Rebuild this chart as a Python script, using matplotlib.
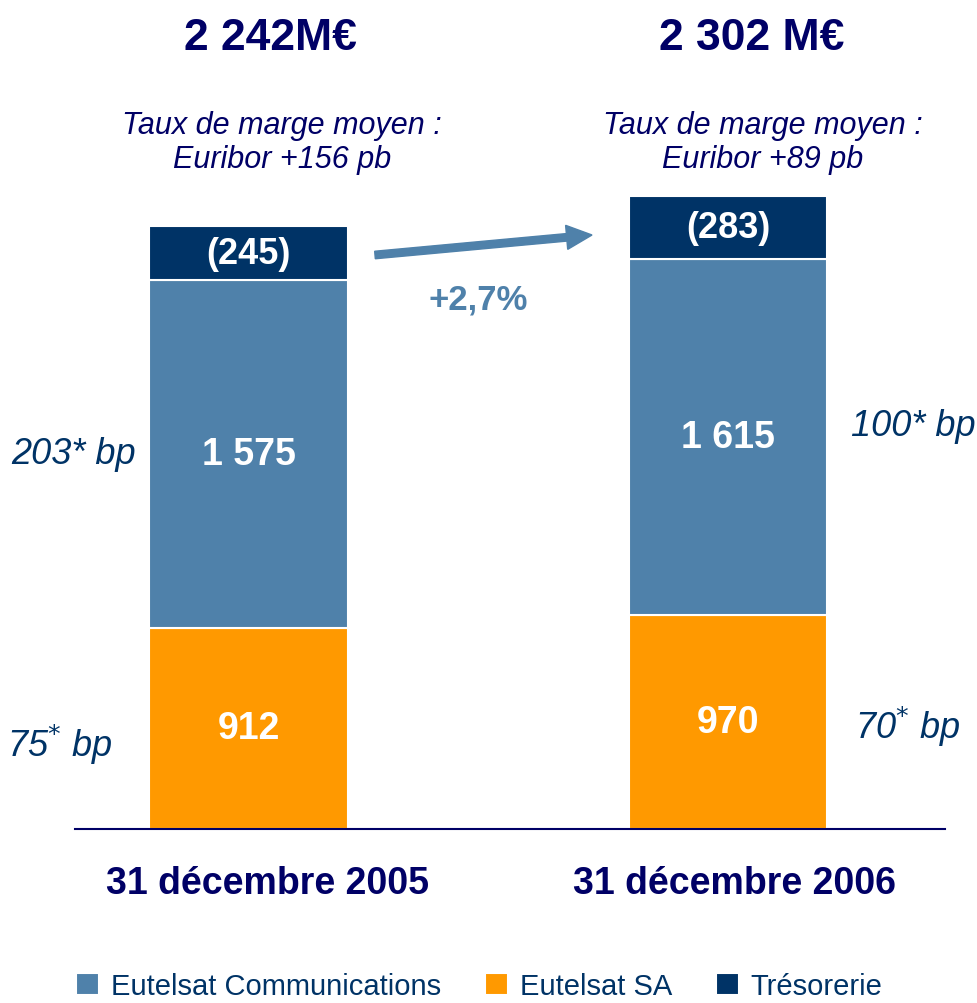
import matplotlib
matplotlib.use("Agg")
import matplotlib.pyplot as plt
import numpy as np

plt.rcParams['font.family'] = ['Liberation Sans Narrow', 'Liberation Sans', 'DejaVu Sans']

dates = ["31 décembre 2005", "31 décembre 2006"]
totals = ["2 242M€", "2 302 M€"]
marges = ["Taux de marge moyen :\nEuribor +156 pb", "Taux de marge moyen :\nEuribor +89 pb"]
eutelsat_sa = [912, 970]
eutelsat_comm = [1575, 1615]
tresorerie = [245, 283]
sa_labels = ["912", "970"]
comm_labels = ["1 575", "1 615"]
treso_labels = ["(245)", "(283)"]
bp_comm = ["203* bp", "100* bp"]
bp_sa = ["75$^{*}$ bp", "70$^{*}$ bp"]
growth = "+2,7%"

c_sa = "#FF9900"
c_comm = "#4F81AA"
c_treso = "#003366"
c_title = "#000066"
c_bp = "#003366"

W, H = 978, 1004
fig = plt.figure(figsize=(W / 100, H / 100), dpi=100)

def fx(px):
    return px / W

def fy(py):
    return 1 - py / H

base_px = 830
ax = fig.add_axes([fx(75), fy(base_px), fx(945) - fx(75), (base_px - 190) / H])
x = np.arange(len(dates))
width = 0.415
b1 = ax.bar(x, eutelsat_sa, width, color=c_sa, edgecolor="white", linewidth=1.5)
b2 = ax.bar(x, eutelsat_comm, width, bottom=eutelsat_sa, color=c_comm, edgecolor="white", linewidth=1.5)
bottom2 = np.array(eutelsat_sa) + np.array(eutelsat_comm)
b3 = ax.bar(x, tresorerie, width, bottom=bottom2, color=c_treso, edgecolor="white", linewidth=1.5)
ax.set_xlim(-0.363, 1.453)
ax.set_ylim(0, 2900)
for s in ["top", "right", "left"]:
    ax.spines[s].set_visible(False)
ax.spines["bottom"].set_color(c_title)
ax.spines["bottom"].set_linewidth(1.5)
ax.set_xticks([])
ax.set_yticks([])

for i in range(len(dates)):
    ax.text(x[i], eutelsat_sa[i] / 2, sa_labels[i], ha="center", va="center",
            color="white", fontsize=27, fontweight="bold")
    ax.text(x[i], eutelsat_sa[i] + eutelsat_comm[i] / 2, comm_labels[i], ha="center", va="center",
            color="white", fontsize=27, fontweight="bold")
    ax.text(x[i], bottom2[i] + tresorerie[i] / 2, treso_labels[i], ha="center", va="center",
            color="white", fontsize=26, fontweight="bold")

# top titles
fig.text(fx(270), fy(38), totals[0], ha="center", va="center", color=c_title, fontsize=32, fontweight="bold")
fig.text(fx(752), fy(38), totals[1], ha="center", va="center", color=c_title, fontsize=32, fontweight="bold")
fig.text(fx(282), fy(143), marges[0], ha="center", va="center", color=c_title, fontsize=22,
         style="italic", linespacing=1.15)
fig.text(fx(763), fy(143), marges[1], ha="center", va="center", color=c_title, fontsize=22,
         style="italic", linespacing=1.15)

# bp labels
fig.text(fx(74), fy(455), bp_comm[0], ha="center", va="center", color=c_bp, fontsize=26, style="italic")
fig.text(fx(913), fy(427), bp_comm[1], ha="center", va="center", color=c_bp, fontsize=26, style="italic")
fig.text(fx(60), fy(745), bp_sa[0], ha="center", va="center", color=c_bp, fontsize=26, style="italic")
fig.text(fx(908), fy(727), bp_sa[1], ha="center", va="center", color=c_bp, fontsize=26, style="italic")

# dates
fig.text(fx(268), fy(884), dates[0], ha="center", va="center", color=c_title, fontsize=27, fontweight="bold")
fig.text(fx(735), fy(884), dates[1], ha="center", va="center", color=c_title, fontsize=27, fontweight="bold")

# growth arrow
fig.add_artist(matplotlib.patches.FancyArrow(fx(375), fy(256), fx(592) - fx(375), fy(236) - fy(256),
                                             width=0.0075, head_width=0.024, head_length=0.026,
                                             length_includes_head=True, color=c_comm,
                                             transform=fig.transFigure))
fig.text(fx(478), fy(300), growth, ha="center", va="center", color=c_comm, fontsize=25, fontweight="bold")

fig.legend([b2, b1, b3], ["Eutelsat Communications", "Eutelsat SA", "Trésorerie"],
           loc="center", bbox_to_anchor=(0.49, fy(987)), ncol=3, frameon=False,
           fontsize=21, handlelength=0.8, handleheight=0.8, handletextpad=0.4,
           columnspacing=1.5, labelcolor=c_bp, borderpad=0.1)

fig.savefig("out.png", dpi=100)
